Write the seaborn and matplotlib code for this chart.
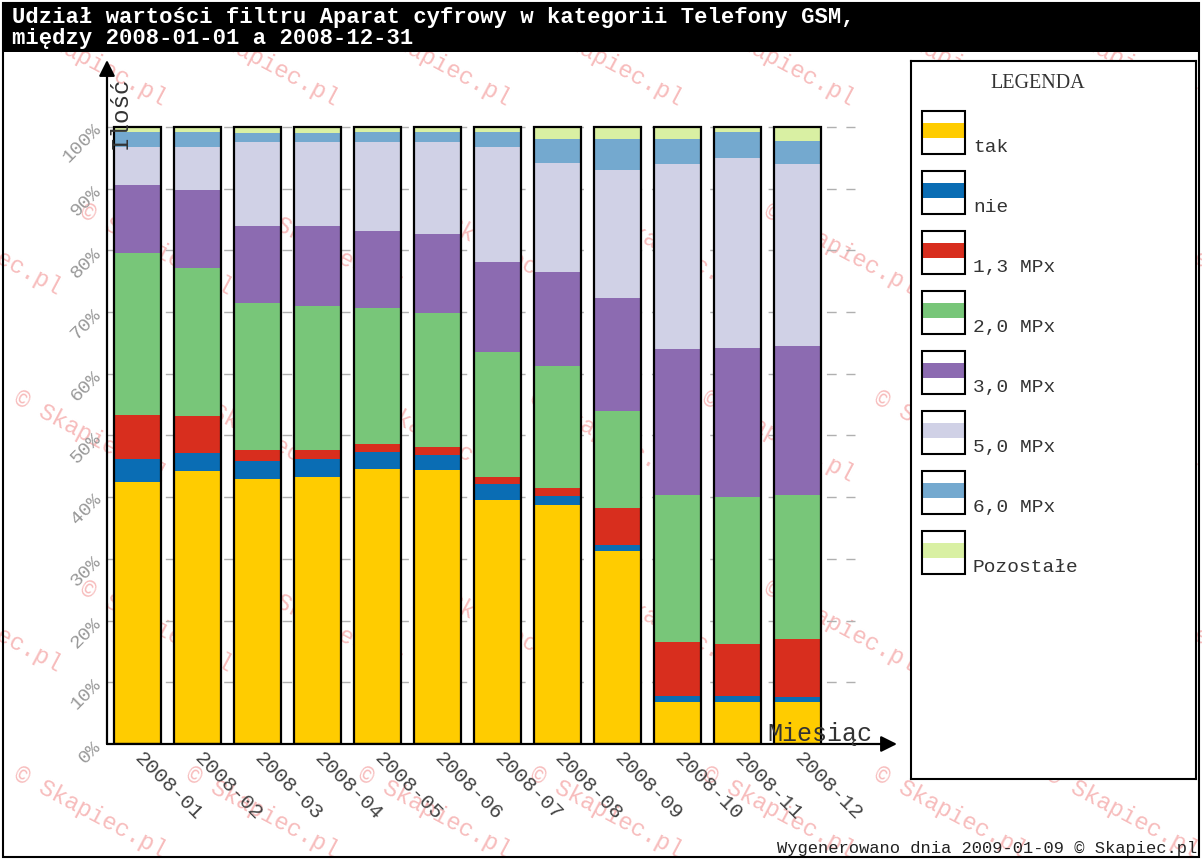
import numpy as np
import pandas as pd
import matplotlib
matplotlib.use("Agg")
import matplotlib.pyplot as plt
import seaborn as sns
from matplotlib.patches import Rectangle

# ---------------- data ----------------
months = ["2008-01", "2008-02", "2008-03", "2008-04", "2008-05", "2008-06",
          "2008-07", "2008-08", "2008-09", "2008-10", "2008-11", "2008-12"]
series_names = ["tak", "nie", "1,3 MPx", "2,0 MPx", "3,0 MPx", "5,0 MPx", "6,0 MPx", "Pozostałe"]
tak     = [42.4, 44.3, 42.9, 43.2, 44.6, 44.4, 39.5, 38.7, 31.2, 6.8, 6.8, 6.8]
nie     = [3.8, 2.8, 2.9, 3.0, 2.8, 2.4, 2.6, 1.5, 1.1, 1.0, 1.0, 0.8]
mpx_13  = [7.2, 6.1, 1.8, 1.4, 1.3, 1.4, 1.1, 1.3, 5.9, 8.7, 8.4, 9.4]
mpx_20  = [26.1, 23.9, 23.9, 23.4, 21.9, 21.7, 20.3, 19.7, 15.8, 23.9, 23.9, 23.4]
mpx_30  = [11.1, 12.7, 12.5, 13.0, 12.5, 12.8, 14.7, 15.3, 18.3, 23.6, 24.1, 24.1]
mpx_50  = [6.2, 7.0, 13.6, 13.6, 14.5, 14.9, 18.6, 17.7, 20.8, 30.0, 30.8, 29.5]
mpx_60  = [2.4, 2.4, 1.5, 1.4, 1.6, 1.6, 2.4, 3.9, 5.0, 4.1, 4.2, 3.8]
pozostale = [0.8, 0.8, 0.9, 1.0, 0.8, 0.8, 0.8, 1.9, 1.9, 1.9, 0.8, 2.2]
y_ticks = [0, 10, 20, 30, 40, 50, 60, 70, 80, 90, 100]
y_tick_labels = ["0%", "10%", "20%", "30%", "40%", "50%", "60%", "70%", "80%", "90%", "100%"]

colors = ["#ffcc00", "#0a6db4", "#d82e1e", "#78c679", "#8c6bb1", "#d0d1e6", "#74a9cf", "#d9f0a3"]

values = [tak, nie, mpx_13, mpx_20, mpx_30, mpx_50, mpx_60, pozostale]
rows = []
for name, vals in zip(series_names, values):
    for m, v in zip(months, vals):
        rows.append({"month": m, "series": name, "value": v})
df = pd.DataFrame(rows)
df["series"] = pd.Categorical(df["series"], categories=series_names, ordered=True)
df = df.sort_values(["month", "series"])
df["cum"] = df.groupby("month", observed=True)["value"].cumsum()
totals = df.groupby("month", observed=True)["value"].sum().reset_index()

# ---------------- style ----------------
sns.set_theme(style="white")
MONO = ["Liberation Mono", "DejaVu Sans Mono", "DejaVu Sans"]
plt.rcParams["font.family"] = MONO

W, H = 1202, 859
fig = plt.figure(figsize=(W / 100, H / 100), dpi=100)
fig.patch.set_facecolor("white")

def fx(px):
    return px / W

def fy(py):
    return 1 - py / H

# watermarks (behind everything)
wm_rows = [(21, 15, 172), (210, -90, 171), (397, 15, 172), (587, -90, 171), (773, 15, 172)]
for yy, x0, step in wm_rows:
    for k in range(-1, 8):
        xx = x0 + step * k
        if xx < -200 or xx > 1210:
            continue
        fig.text(fx(xx), fy(yy), "© Skapiec.pl", rotation=-28, rotation_mode="anchor",
                 ha="left", va="center", fontsize=17, color="#f7bcbc", zorder=-1)

# main axes
ax_left, ax_right, ax_bottom, ax_top = 107, 897, 744, 60
ax = fig.add_axes([fx(ax_left), fy(ax_bottom), (ax_right - ax_left) / W, (ax_bottom - ax_top) / H])
ax.set_facecolor("none")

px_per_cat = 60.0
c0 = 137.5
xl = (ax_left - c0) / px_per_cat
xr = (ax_right - c0) / px_per_cat
px_per_pct = 6.17
yt = (ax_bottom - ax_top) / px_per_pct
grid_end = (855 - c0) / px_per_cat

ax.hlines(y_ticks[1:], xl, grid_end, colors="#b0b0b0", linestyles=(0, (7, 7)), linewidth=1.0, zorder=0.5)

for name, col in reversed(list(zip(series_names, colors))):
    sub = df[df["series"] == name]
    sns.barplot(data=sub, x="month", y="cum", order=months, color=col, saturation=1,
                width=0.78, linewidth=0, errorbar=None, ax=ax, zorder=1)

sns.barplot(data=totals, x="month", y="value", order=months, color="black", fill=False,
            width=0.78, linewidth=1.6, errorbar=None, ax=ax, zorder=2)

ax.set_xlim(xl, xr)
ax.set_ylim(0, yt)
for s in ax.spines.values():
    s.set_visible(False)
ax.set_xlabel("")
ax.set_ylabel("")

# axis arrows
arrow_kw = dict(arrowstyle="-|>", color="black", lw=1.6, mutation_scale=24, shrinkA=0, shrinkB=0)
ax.annotate("", xy=(xl, yt), xytext=(xl, 0), arrowprops=arrow_kw, annotation_clip=False)
ax.annotate("", xy=(xr, 0), xytext=(xl, 0), arrowprops=arrow_kw, annotation_clip=False)

ax.set_yticks(y_ticks)
ax.set_yticklabels(y_tick_labels, rotation=45, rotation_mode="anchor", ha="right", va="center",
                   color="#999999", fontsize=14)
ax.tick_params(axis="y", length=0, pad=6)
ax.set_xticks(range(len(months)))
ax.set_xticklabels(months, rotation=-45, rotation_mode="anchor", ha="left", va="center",
                   color="#444444", fontsize=15)
ax.tick_params(axis="x", length=0, pad=8)

ax.text((120 - c0) / px_per_cat, (ax_bottom - 113) / px_per_pct, "Ilość", rotation=90,
        ha="center", va="center", fontsize=17.5, color="#333333", zorder=5)
ax.text((767 - c0) / px_per_cat, (ax_bottom - 741) / px_per_pct, "Miesiąc", ha="left",
        va="baseline", fontsize=18, color="#333333", zorder=5)

# title band
band = Rectangle((fx(3), fy(52)), (1199 - 3) / W, (52 - 3) / H, transform=fig.transFigure,
                 facecolor="black", edgecolor="none", zorder=5)
fig.add_artist(band)
fig.text(fx(12), fy(23), "Udział wartości filtru Aparat cyfrowy w kategorii Telefony GSM,",
         color="white", fontsize=16, fontweight="bold", va="baseline", ha="left", zorder=6)
fig.text(fx(12), fy(44), "między 2008-01-01 a 2008-12-31",
         color="white", fontsize=16, fontweight="bold", va="baseline", ha="left", zorder=6)

# outer frame
frame = Rectangle((fx(3), fy(857)), (1199 - 3) / W, (857 - 3) / H, transform=fig.transFigure,
                  facecolor="none", edgecolor="black", lw=1.5, zorder=7)
fig.add_artist(frame)

# legend box
lx0, lx1, ly0, ly1 = 911, 1196, 60.7, 779
lax = fig.add_axes([fx(lx0), fy(ly1), (lx1 - lx0) / W, (ly1 - ly0) / H], zorder=3)
lax.set_facecolor("white")
lax.set_xlim(lx0, lx1)
lax.set_ylim(ly1, ly0)
lax.set_xticks([])
lax.set_yticks([])
for s in lax.spines.values():
    s.set_color("black")
    s.set_linewidth(1.5)
lax.text(1038, 88, "LEGENDA", ha="center", va="baseline",
         family=["Liberation Serif", "DejaVu Serif"], fontsize=14.5, color="#333333")
for i, (name, col) in enumerate(zip(series_names, colors)):
    top = 110.7 + 60 * i
    lax.add_patch(Rectangle((922, top + 12.6), 43, 15, facecolor=col, edgecolor="none"))
    lax.add_patch(Rectangle((922, top), 43, 43, facecolor="none", edgecolor="black", lw=1.5))
    lax.text(973, top + 41.5, name, ha="left", va="baseline", fontsize=14, color="#333333")

fig.text(fx(1197), fy(853), "Wygenerowano dnia 2009-01-09 © Skapiec.pl", ha="right",
         va="baseline", fontsize=12.3, color="#222222", zorder=6)

fig.savefig("out.png", dpi=100)
